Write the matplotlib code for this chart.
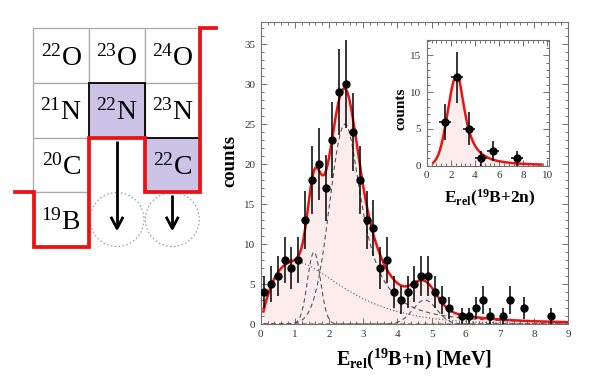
import numpy as np
import matplotlib
matplotlib.use("Agg")
import matplotlib.pyplot as plt
from matplotlib.patches import Rectangle, Circle
from matplotlib.ticker import MultipleLocator

plt.rcParams["font.family"] = "serif"
plt.rcParams["font.serif"] = ["Liberation Serif", "DejaVu Serif"]
plt.rcParams["mathtext.fontset"] = "custom"
plt.rcParams["mathtext.rm"] = "Liberation Serif"
plt.rcParams["mathtext.bf"] = "Liberation Serif:bold"
plt.rcParams["mathtext.it"] = "Liberation Serif:italic"

W, H = 592, 390

# 19B+n relative energy spectrum (0.2 MeV bins)
e_n = [0.1, 0.3, 0.5, 0.7, 0.9, 1.1, 1.3, 1.5, 1.7, 1.9, 2.1, 2.3, 2.5, 2.7, 2.9,
       3.1, 3.3, 3.5, 3.7, 3.9, 4.1, 4.3, 4.5, 4.7, 4.9, 5.1, 5.3, 5.5, 5.9, 6.1,
       6.3, 6.5, 6.7, 7.1, 7.3, 7.7, 8.5]
counts_n = [4, 5, 6, 8, 7, 8, 13, 18, 20, 17, 23, 29, 30, 24, 18,
            13, 12, 7, 8, 4, 3, 4, 5, 6, 6, 4, 3, 2, 1, 1,
            2, 3, 1, 1, 3, 2, 1]
err_n = [2.0, 2.24, 2.45, 2.83, 2.65, 2.83, 3.61, 4.24, 4.47, 4.12, 4.8, 5.39, 5.48, 4.9, 4.24,
         3.61, 3.46, 2.65, 2.83, 2.0, 1.73, 2.0, 2.24, 2.45, 2.45, 2.0, 1.73, 1.41, 1.0, 1.0,
         1.41, 1.73, 1.0, 1.0, 1.73, 1.41, 1.0]

# fit components
PK_A = (1.56, 0.19, 9.0)          # centre, sigma, amplitude
PK_B = (2.47, 0.45, 0.6, 25.0)    # centre, left sigma, right width, amplitude
PK_C = (4.8, 0.35, 3.0)
BG_AMP, BG_T = 21.2, 1.0

# 19B+2n inset
e_2n = [1.5, 2.5, 3.5, 4.5, 5.5, 7.5]
counts_2n = [6, 12, 5, 1, 2, 1]
err_2n = [2.45, 3.46, 2.24, 1.0, 1.41, 1.0]
xerr_2n = [0.5] * 6
PK_2N = (2.5, 0.75, 0.8, 12.3)
hist_edges_2n = [0, 1, 2, 3, 4, 5, 6, 7, 8, 9, 10]
hist_2n = [0.3, 5.2, 11.6, 4.6, 1.6, 0.8, 0.45, 0.3, 0.2, 0.15]

# nuclide chart cells: (mass, symbol, row, col)
cells = [("22", "O", 0, 0), ("23", "O", 0, 1), ("24", "O", 0, 2),
         ("21", "N", 1, 0), ("22", "N", 1, 1), ("23", "N", 1, 2),
         ("20", "C", 2, 0), ("22", "C", 2, 2), ("19", "B", 3, 0)]
shaded = [(1, 1), (2, 2)]


def gauss(x, e0, sig, amp):
    return amp * np.exp(-0.5 * ((x - e0) / sig) ** 2)


def asym(x, e0, sig_l, gam_r, amp):
    return np.where(x < e0, amp * np.exp(-0.5 * ((x - e0) / sig_l) ** 2),
                    amp / (1 + ((x - e0) / gam_r) ** 2))


fig = plt.figure(figsize=(W / 100, H / 100), dpi=100)

# ---- left: nuclide chart, drawn in pixel coords
ax0 = fig.add_axes([0, 0, 1, 1])
ax0.set_xlim(0, W); ax0.set_ylim(H, 0); ax0.axis("off")
col_x = [33.3, 89, 144.7, 200]
row_y = [28.3, 83, 137.7, 192.3, 247]
for mass, sym, r, c in cells:
    x0, y0 = col_x[c], row_y[r]
    w, h = col_x[c + 1] - x0, row_y[r + 1] - y0
    if (r, c) in shaded:
        ax0.add_patch(Rectangle((x0, y0), w, h, fc="#cac3e6", ec="k", lw=1.3, zorder=2))
    else:
        ax0.add_patch(Rectangle((x0, y0), w, h, fc="white", ec="#a8a8a8", lw=0.9, zorder=1))
    ax0.text(x0 + w / 2, y0 + 37, r"$^{%s}\mathrm{%s}$" % (mass, sym), ha="center",
             va="baseline", fontsize=20, zorder=5)

for cx in (117, 172.3):
    ax0.add_patch(Circle((cx, 219.5), 27, fill=False, ec="#9a9a9a", lw=0.8, ls=(0, (1.5, 2))))
for cx, y_start in ((117, 141), (172.3, 195)):
    ax0.plot([cx, cx], [y_start, 227], color="k", lw=2, solid_capstyle="butt")
    ax0.plot([cx - 5.5, cx, cx + 5.5], [218, 228.5, 218], color="k", lw=2)

red_x = [15.3, 34, 34, 89, 89, 144.7, 144.7, 200, 200, 216]
red_y = [192.3, 192.3, 247, 247, 137.7, 137.7, 192.3, 192.3, 28.3, 28.3]
ax0.plot(red_x, red_y, color="#ee1111", lw=2.7, solid_joinstyle="miter", zorder=6)


def style_axes(ax, xmaj, xmin, ymaj, ymin):
    for s in ax.spines.values():
        s.set_color("#707070"); s.set_linewidth(0.8)
    ax.xaxis.set_major_locator(MultipleLocator(xmaj))
    ax.xaxis.set_minor_locator(MultipleLocator(xmin))
    ax.yaxis.set_major_locator(MultipleLocator(ymaj))
    ax.yaxis.set_minor_locator(MultipleLocator(ymin))
    ax.tick_params(which="both", direction="in", top=True, right=True,
                   color="#707070", labelcolor="#333333", labelsize=8, width=0.7)
    ax.tick_params(which="major", length=4, pad=4)
    ax.tick_params(which="minor", length=2)


# ---- main spectrum
ax = fig.add_axes([260.7 / W, 1 - 324 / H, (568.3 - 260.7) / W, (324 - 21.7) / H])
x = np.linspace(0.08, 9, 600)
ca = gauss(x, *PK_A)
cb = asym(x, *PK_B)
cc = gauss(x, *PK_C)
bg = BG_AMP * x * np.exp(-x / BG_T)
tot = ca + cb + cc + bg
ax.fill_between(x, 0, tot, color="#fcecec", lw=0, zorder=1)
for comp in (ca, cb, cc):
    ax.plot(x, comp, color="#555555", lw=0.8, ls=(0, (4, 3)), zorder=2)
ax.plot(x, bg, color="#555555", lw=0.8, ls=(0, (1, 2)), zorder=2)
ax.plot(x, tot, color="#ee1111", lw=1.8, zorder=3)
ax.errorbar(e_n, counts_n, yerr=err_n, fmt="o", color="k", ms=5, elinewidth=1.1,
            capsize=0, zorder=4)
ax.set_xlim(0, 9); ax.set_ylim(0, 37.8)
style_axes(ax, 1, 0.2, 5, 1)

# ---- inset 19B+2n
axi = fig.add_axes([426.7 / W, 1 - 165.7 / H, (549.3 - 426.7) / W, (165.7 - 40) / H])
xi = np.linspace(0.55, 9.5, 400)
axi.stairs(hist_2n, hist_edges_2n, fill=True, color="#fcecec", lw=0, zorder=1)
axi.plot(xi, asym(xi, *PK_2N), color="#ee1111", lw=1.8, zorder=3)
axi.errorbar(e_2n, counts_2n, yerr=err_2n, xerr=xerr_2n, fmt="o", color="k", ms=5,
             elinewidth=1.1, capsize=0, zorder=4)
axi.set_xlim(0, 10.15); axi.set_ylim(0, 17.08)
style_axes(axi, 2, 0.4, 5, 1)

# ---- labels
def ftext(px, py, s, **kw):
    fig.text(px / W, 1 - py / H, s, ha="center", va="center", fontweight="bold", **kw)

ftext(229.5, 161, "counts", fontsize=13.5, rotation=90)
ftext(414, 359, r"$\mathbf{E_{rel}(^{19}B{+}n)}$ [MeV]", fontsize=14.5)
ftext(400.7, 109, "counts", fontsize=11, rotation=90)
ftext(490, 198, r"$\mathbf{E_{rel}(^{19}B{+}2n)}$", fontsize=12.5)

fig.savefig("out.png", dpi=100)
